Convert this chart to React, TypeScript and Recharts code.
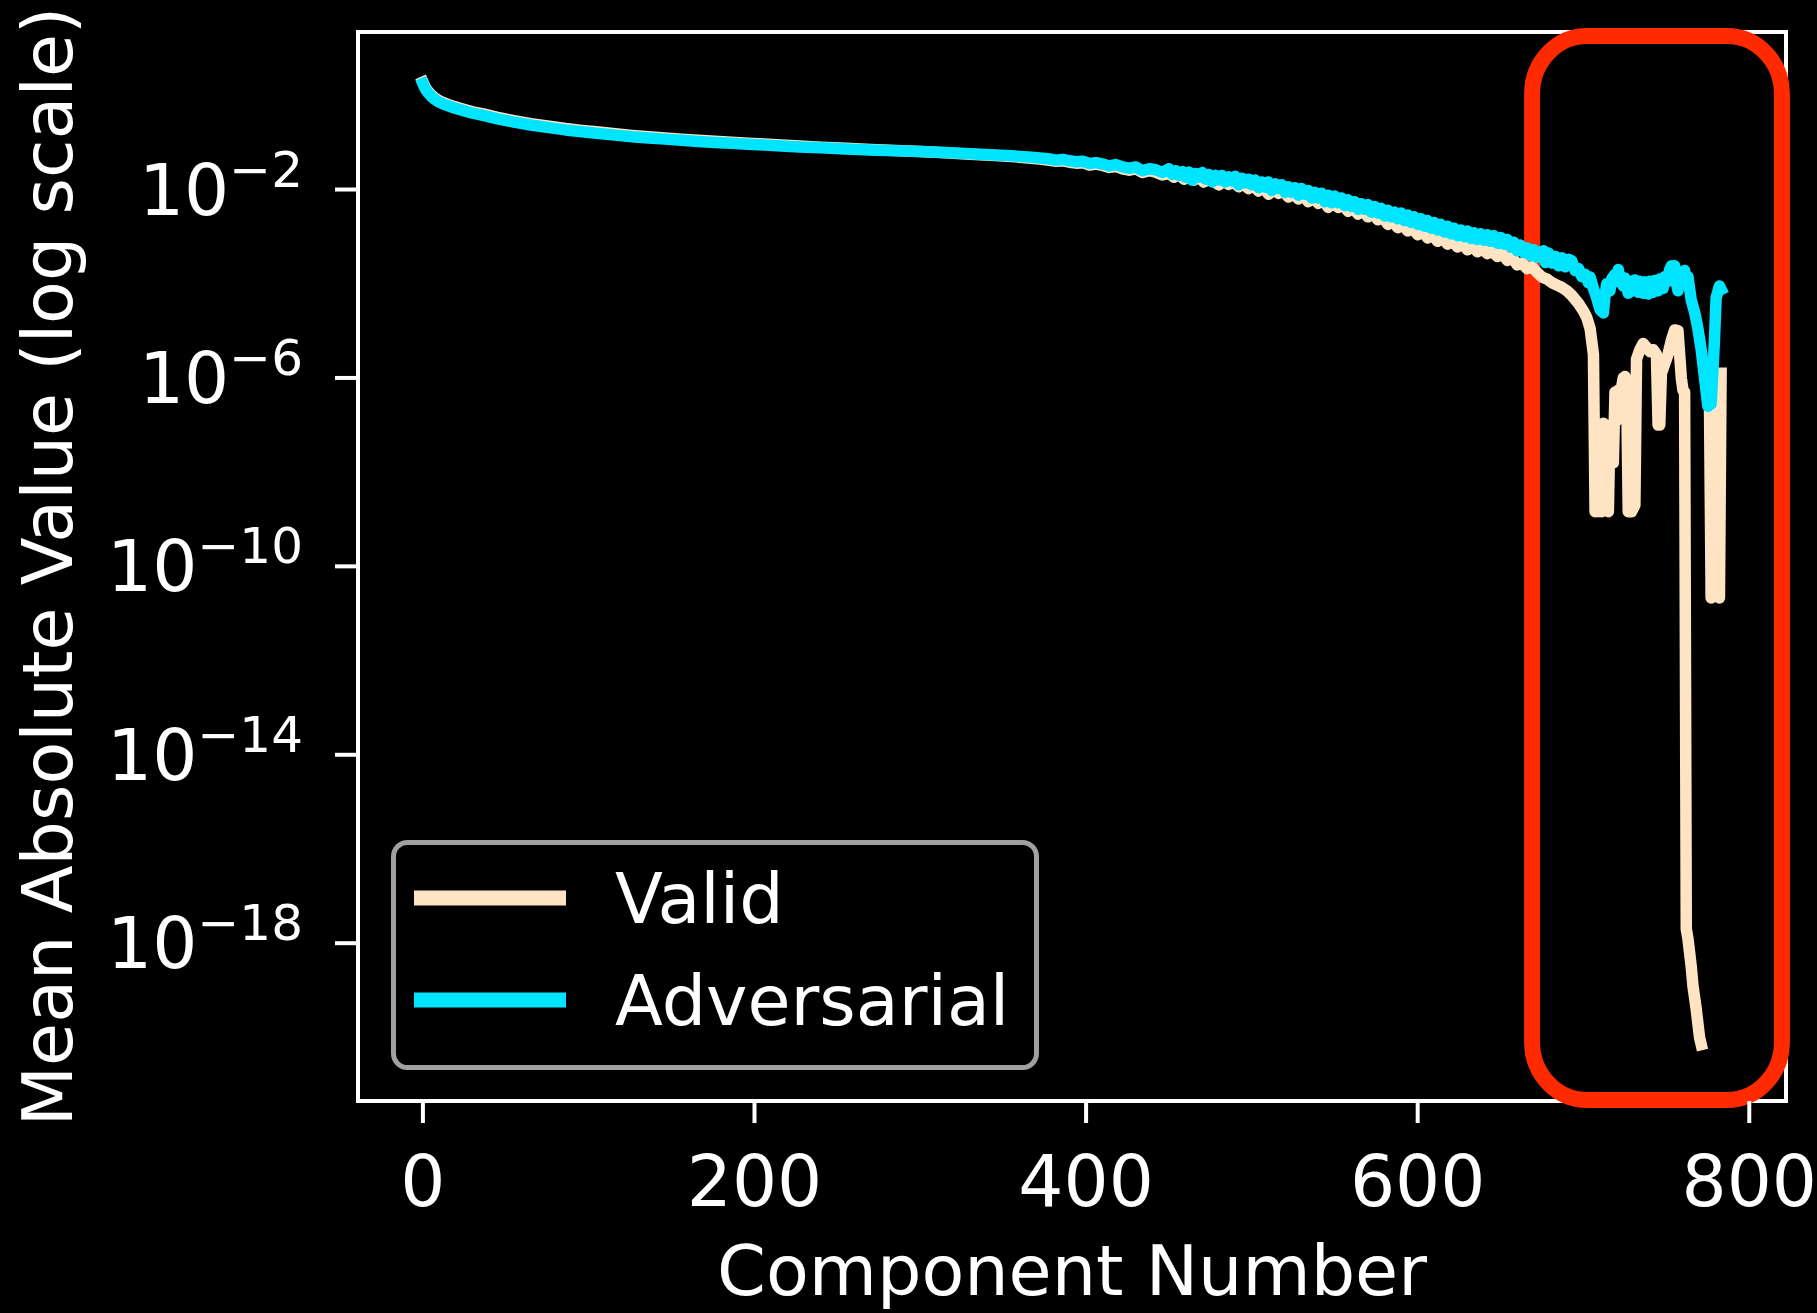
import React from 'react';
import { LineChart, Line, XAxis, YAxis, ReferenceArea, Legend } from 'recharts';

// ---- data: [component number, log10(mean absolute value)] ----
const VALID_POINTS: [number, number | null][] = [
  [0, 0.28], [1, 0.2], [2, 0.14], [3, 0.09], [5, 0.01], [7, -0.05], [9, -0.1], [12, -0.15], [15, -0.19],
  [19, -0.24], [24, -0.29], [30, -0.35], [37, -0.4], [45, -0.47], [55, -0.54], [65, -0.6], [75, -0.65],
  [86, -0.705], [96, -0.745], [106, -0.78], [116, -0.815], [126, -0.85], [136, -0.88], [146, -0.905],
  [156, -0.93], [166, -0.955], [176, -0.975], [186, -0.995], [196, -1.015], [206, -1.035], [216, -1.055],
  [227, -1.075], [240, -1.1], [255, -1.125], [270, -1.15], [285, -1.17], [300, -1.195], [315, -1.22],
  [330, -1.25], [345, -1.28], [355, -1.3], [365, -1.33], [372, -1.355], [378, -1.38], [382, -1.4],
  [386, -1.39], [390, -1.42], [394, -1.44], [398, -1.43], [402, -1.48], [406, -1.46], [410, -1.49],
  [414, -1.53], [418, -1.51], [422, -1.56], [426, -1.59], [430, -1.56], [434, -1.64], [438, -1.6],
  [442, -1.63], [446, -1.69], [450, -1.66], [453, -1.74], [456, -1.68], [459, -1.78], [462, -1.72],
  [465, -1.8], [468, -1.73], [471, -1.84], [474, -1.77], [477, -1.83], [480, -1.9], [483, -1.82],
  [486, -1.89], [489, -1.84], [492, -1.94], [495, -1.88], [498, -1.98], [501, -1.92], [504, -2.03],
  [507, -1.95], [510, -2.1], [513, -2.0], [516, -2.08], [519, -2.02], [522, -2.16], [525, -2.08],
  [528, -2.2], [531, -2.12], [534, -2.26], [537, -2.17], [540, -2.29], [543, -2.22], [546, -2.38],
  [549, -2.28], [552, -2.38], [555, -2.32], [558, -2.46], [561, -2.4], [564, -2.52], [567, -2.45],
  [570, -2.58], [573, -2.5], [576, -2.64], [579, -2.58], [582, -2.74], [585, -2.66], [588, -2.81],
  [591, -2.73], [594, -2.88], [597, -2.81], [600, -2.96], [603, -2.88], [606, -3.03], [609, -2.96],
  [612, -3.1], [615, -3.02], [618, -3.16], [621, -3.09], [624, -3.22], [627, -3.14], [630, -3.28],
  [633, -3.2], [636, -3.32], [639, -3.26], [642, -3.36], [645, -3.3], [648, -3.42], [651, -3.36],
  [654, -3.5], [657, -3.44], [660, -3.6], [663, -3.56], [666, -3.68], [669, -3.64], [672, -3.76],
  [675, -3.86], [678, -3.9], [681, -3.98], [684, -4.03], [687, -4.08], [690, -4.15], [693, -4.25],
  [697, -4.42], [700, -4.58], [702, -4.72], [704, -4.95], [706, -5.5], [707, -8.84], [708, -7.0],
  [709, -8.84], [710, -7.2], [711, -8.84], [712, -6.96], [713, -8.8], [714, -7.1], [715, -8.84],
  [716, -7.0], [717, -7.6], [718, -7.8], [719, -6.3], [720, -6.9], [721, -6.26], [722, -6.5],
  [723, -6.2], [724, -6.0], [725, -5.97], [726, -6.1], [727, -8.84], [729, -8.84], [731, -8.7],
  [732, -5.6], [734, -5.4], [736, -5.27], [738, -5.35], [740, -5.44], [742, -5.4], [744, -5.5],
  [745, -7.0], [746, -7.0], [747, -5.9], [749, -5.7], [751, -5.5], [753, -5.2], [755, -4.98],
  [757, -5.0], [758, -5.5], [759, -6.0], [760, -6.26], [761, -6.3], [762, -17.7], [763, -17.9],
  [765, -18.5], [766, -18.9], [768, -19.4], [769, -19.7], [770, -20.0], [771, -20.15], [772, null],
  [776, -6.5], [777, -10.67], [780, -10.6], [782, -10.67], [783, -5.9],
];

const ADV_POINTS: [number, number | null][] = [
  [0, 0.25], [1, 0.17], [2, 0.11], [3, 0.06], [5, -0.02], [7, -0.08], [9, -0.13], [12, -0.18], [15, -0.22],
  [19, -0.27], [24, -0.32], [30, -0.38], [37, -0.43], [45, -0.5], [55, -0.57], [65, -0.63], [75, -0.68],
  [86, -0.735], [96, -0.775], [106, -0.81], [116, -0.845], [126, -0.88], [136, -0.905], [146, -0.93],
  [156, -0.955], [166, -0.98], [176, -1.0], [186, -1.02], [196, -1.04], [206, -1.055], [216, -1.075],
  [227, -1.095], [240, -1.115], [255, -1.14], [270, -1.16], [285, -1.175], [300, -1.195], [315, -1.215],
  [330, -1.24], [345, -1.265], [355, -1.285], [365, -1.31], [372, -1.33], [378, -1.35], [382, -1.38],
  [386, -1.36], [390, -1.39], [394, -1.41], [398, -1.4], [402, -1.45], [406, -1.43], [410, -1.46],
  [414, -1.5], [418, -1.47], [422, -1.52], [426, -1.55], [430, -1.52], [434, -1.6], [438, -1.56],
  [442, -1.58], [446, -1.64], [450, -1.56], [452, -1.68], [454, -1.6], [456, -1.7], [458, -1.62],
  [460, -1.74], [462, -1.63], [464, -1.8], [466, -1.66], [468, -1.74], [470, -1.64], [472, -1.78],
  [474, -1.68], [476, -1.84], [478, -1.7], [480, -1.8], [482, -1.7], [484, -1.84], [486, -1.73],
  [488, -1.82], [490, -1.72], [492, -1.9], [494, -1.76], [496, -1.86], [498, -1.78], [500, -1.9],
  [502, -1.8], [504, -1.96], [506, -1.84], [508, -1.95], [510, -1.84], [512, -2.02], [514, -1.88],
  [516, -1.98], [518, -1.9], [520, -2.06], [522, -1.94], [524, -2.06], [526, -1.96], [528, -2.12],
  [530, -1.98], [532, -2.1], [534, -2.02], [536, -2.18], [538, -2.06], [540, -2.18], [542, -2.08],
  [544, -2.26], [546, -2.12], [548, -2.28], [550, -2.14], [552, -2.28], [554, -2.18], [556, -2.34],
  [558, -2.22], [560, -2.36], [562, -2.26], [564, -2.42], [566, -2.3], [568, -2.42], [570, -2.32],
  [572, -2.48], [574, -2.36], [576, -2.5], [578, -2.4], [580, -2.56], [582, -2.44], [584, -2.58],
  [586, -2.48], [588, -2.62], [590, -2.5], [592, -2.66], [594, -2.54], [596, -2.7], [598, -2.58],
  [600, -2.74], [602, -2.62], [604, -2.78], [606, -2.66], [608, -2.82], [610, -2.7], [612, -2.86],
  [614, -2.74], [616, -2.9], [618, -2.78], [620, -2.94], [622, -2.82], [624, -2.98], [626, -2.86],
  [628, -3.0], [630, -2.88], [632, -3.04], [634, -2.92], [636, -3.06], [638, -2.94], [640, -3.08],
  [642, -2.96], [644, -3.1], [646, -2.98], [648, -3.14], [650, -3.02], [652, -3.16], [654, -3.06],
  [656, -3.22], [658, -3.12], [660, -3.3], [662, -3.18], [664, -3.34], [666, -3.24], [668, -3.4],
  [670, -3.28], [672, -3.44], [674, -3.32], [676, -3.3], [677, -3.55], [679, -3.35], [681, -3.56],
  [683, -3.42], [685, -3.62], [687, -3.45], [689, -3.64], [691, -3.48], [693, -3.52], [695, -3.72],
  [697, -3.68], [699, -3.85], [701, -3.8], [703, -3.98], [704, -3.86], [706, -4.1], [708, -4.3],
  [710, -4.55], [712, -4.62], [713, -4.25], [714, -4.0], [716, -4.15], [717, -3.9], [719, -3.8],
  [720, -3.95], [721, -3.7], [722, -3.9], [724, -4.05], [725, -3.88], [727, -4.2], [728, -3.95],
  [730, -4.15], [731, -3.92], [733, -4.18], [734, -3.95], [736, -4.2], [737, -3.96], [739, -4.22],
  [740, -3.95], [742, -4.18], [743, -3.93], [745, -4.15], [746, -3.9], [748, -4.1], [749, -3.85],
  [751, -3.95], [752, -3.7], [753, -3.62], [754, -3.8], [755, -3.62], [756, -3.95], [757, -4.15],
  [758, -3.9], [760, -3.75], [761, -3.72], [762, -3.95], [763, -3.85], [765, -4.35], [767, -4.6],
  [769, -4.95], [771, -5.4], [773, -6.0], [775, -6.6], [777, -6.55], [779, -5.2], [780, -4.3],
  [782, -4.05], [783, -4.12],
];

const SERIES_NAMES = ['Valid', 'Adversarial'];
const X_TICKS = [0, 200, 400, 600, 800];
const Y_TICK_EXPONENTS = [-18, -14, -10, -6, -2];

// axis ranges (log10 for y)
const X_DOMAIN: [number, number] = [-39.15, 822.15];
const Y_LOG_DOMAIN: [number, number] = [-21.35, 1.344];
// highlighted region (annotation box), data coordinates
const HIGHLIGHT_X: [number, number] = [669, 819.7];
const HIGHLIGHT_Y_LOG: [number, number] = [-21.33, 1.259];

// ---- styles ----
const W = 1817;
const H = 1313;
const FONT = '"DejaVu Sans", Verdana, sans-serif';
const VALID_COLOR = '#FFE4C4';
const ADV_COLOR = '#00E5FF';
const RED = '#FF2A00';
const TICK_FONT = 71;
const LABEL_FONT = 70;
const LINE_W = 11.5;

const toData = (pts: [number, number | null][]) =>
  pts.map(([c, l]) => ({ c, v: l === null ? null : Math.pow(10, l) }));

const validData = toData(VALID_POINTS);
const advData = toData(ADV_POINTS);

const XTick = (props: any) => {
  const { x, y, payload } = props;
  return (
    <text x={x} y={y + 81} textAnchor="middle" fill="#fff" fontSize={TICK_FONT} fontFamily={FONT}>
      {payload.value}
    </text>
  );
};

const YTick = (props: any) => {
  const { x, y, payload } = props;
  const exp = Math.round(Math.log10(payload.value));
  return (
    <text x={x} y={y + 25} textAnchor="end" fill="#fff" fontSize={TICK_FONT} fontFamily={FONT}>
      <tspan>10</tspan>
      <tspan dy={-28} fontSize={50}>{'\u2212' + String(-exp)}</tspan>
    </text>
  );
};

const renderXLabel = (props: any) => {
  const vb = props.viewBox || { x: 358, y: 1101, width: 1428, height: 212 };
  return (
    <text x={vb.x + vb.width / 2} y={vb.y + 194} textAnchor="middle" fill="#fff" fontSize={LABEL_FONT} fontFamily={FONT}>
      Component Number
    </text>
  );
};

const renderYLabel = (props: any) => {
  const vb = props.viewBox || { x: 0, y: 32, width: 358, height: 1069 };
  const cx = vb.x + 72;
  const cy = vb.y + vb.height / 2;
  return (
    <text x={cx} y={cy} transform={`rotate(-90 ${cx} ${cy})`} textAnchor="middle" fill="#fff" fontSize={LABEL_FONT} fontFamily={FONT}>
      Mean Absolute Value (log scale)
    </text>
  );
};

const renderLegend = () => (
  <svg width={648} height={230} style={{ display: 'block' }}>
    <rect x={2.5} y={2.5} width={643} height={225} rx={14} ry={14} fill="#000" stroke="#a0a0a0" strokeWidth={5} />
    <line x1={23} x2={175} y1={58} y2={58} stroke={VALID_COLOR} strokeWidth={15} />
    <line x1={23} x2={175} y1={160} y2={160} stroke={ADV_COLOR} strokeWidth={15} />
    <text x={224} y={83} fill="#fff" fontSize={LABEL_FONT} fontFamily={FONT}>{SERIES_NAMES[0]}</text>
    <text x={224} y={185} fill="#fff" fontSize={LABEL_FONT} fontFamily={FONT}>{SERIES_NAMES[1]}</text>
  </svg>
);

const HighlightShape = (props: any) => {
  const { x, y, width, height } = props;
  return <rect x={x} y={y} width={width} height={height} rx={55} ry={58} fill="none" stroke={RED} strokeWidth={16} />;
};

const FrameShape = (props: any) => {
  const { x, y, width, height } = props;
  return <rect x={x} y={y} width={width} height={height} fill="none" stroke="#fff" strokeWidth={4} />;
};

export default function App() {
  const yMin = Math.pow(10, Y_LOG_DOMAIN[0]);
  const yMax = Math.pow(10, Y_LOG_DOMAIN[1]);
  return (
    <div style={{ position: 'fixed', left: 0, top: 0, width: W, height: H, background: '#000', overflow: 'hidden' }}>
      <LineChart width={W} height={H} margin={{ top: 32, right: 31, bottom: 0, left: 0 }}>
        <XAxis
          dataKey="c"
          type="number"
          domain={X_DOMAIN}
          allowDataOverflow
          ticks={X_TICKS}
          height={212}
          axisLine={false}
          tickSize={22}
          tickMargin={2}
          tickLine={{ stroke: '#fff', strokeWidth: 4 }}
          tick={<XTick />}
          label={{ content: renderXLabel }}
        />
        <YAxis
          type="number"
          scale="log"
          domain={[yMin, yMax]}
          allowDataOverflow
          ticks={Y_TICK_EXPONENTS.map((e) => Math.pow(10, e))}
          width={358}
          axisLine={false}
          tickSize={23}
          tickMargin={32}
          tickLine={{ stroke: '#fff', strokeWidth: 4 }}
          tick={<YTick />}
          label={{ content: renderYLabel }}
        />
        <ReferenceArea x1={X_DOMAIN[0]} x2={X_DOMAIN[1]} y1={yMin} y2={yMax} ifOverflow="visible" shape={<FrameShape />} />
        <Line
          data={validData}
          dataKey="v"
          name={SERIES_NAMES[0]}
          type="linear"
          stroke={VALID_COLOR}
          strokeWidth={LINE_W}
          strokeLinejoin="round"
          strokeLinecap="square"
          dot={false}
          activeDot={false}
          isAnimationActive={false}
        />
        <Line
          data={advData}
          dataKey="v"
          name={SERIES_NAMES[1]}
          type="linear"
          stroke={ADV_COLOR}
          strokeWidth={LINE_W}
          strokeLinejoin="round"
          strokeLinecap="square"
          dot={false}
          activeDot={false}
          isAnimationActive={false}
        />
        <ReferenceArea
          x1={HIGHLIGHT_X[0]}
          x2={HIGHLIGHT_X[1]}
          y1={Math.pow(10, HIGHLIGHT_Y_LOG[0])}
          y2={Math.pow(10, HIGHLIGHT_Y_LOG[1])}
          ifOverflow="visible"
          shape={<HighlightShape />}
        />
        <Legend
          layout="vertical"
          align="center"
          verticalAlign="middle"
          content={renderLegend}
          wrapperStyle={{ position: 'absolute', left: 391, top: 840, width: 648, height: 230 }}
        />
      </LineChart>
    </div>
  );
}
